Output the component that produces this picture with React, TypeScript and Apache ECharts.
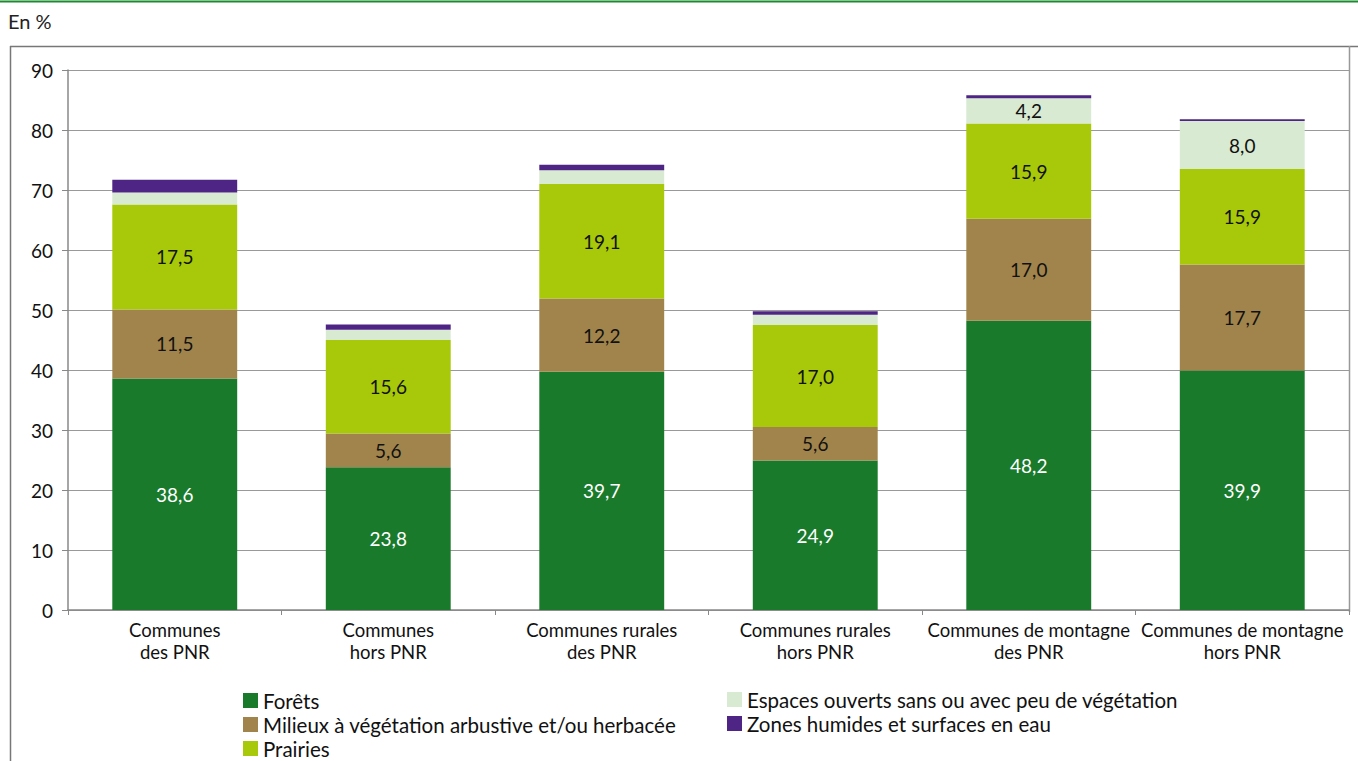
import React, { useEffect, useRef } from "react";
import * as echarts from "echarts";

const categories = [
  "Communes\ndes PNR",
  "Communes\nhors PNR",
  "Communes rurales\ndes PNR",
  "Communes rurales\nhors PNR",
  "Communes de montagne\ndes PNR",
  "Communes de montagne\nhors PNR",
];
const forets = [38.6, 23.8, 39.7, 24.9, 48.2, 39.9];
const milieux = [11.5, 5.6, 12.2, 5.6, 17.0, 17.7];
const prairies = [17.5, 15.6, 19.1, 17.0, 15.9, 15.9];
const espaces = [2.0, 1.7, 2.3, 1.7, 4.2, 8.0];
const zones = [2.1, 0.9, 0.9, 0.6, 0.5, 0.3];
const yTicks = [0, 10, 20, 30, 40, 50, 60, 70, 80, 90];

const FONT = "Lato";

const fmt = (v: number) => v.toFixed(1).replace(".", ",");

export default function App() {
  const ref = useRef<HTMLDivElement>(null);
  useEffect(() => {
    if (!ref.current) return;
    const chart = echarts.init(ref.current, undefined, { renderer: "svg" });
    const labelCommon = {
      show: true,
      fontFamily: FONT,
      fontSize: 19,
      formatter: (p: any) => fmt(p.value),
    };
    const mk = (name: string, data: number[], color: string, labelColor: string, minLabel: number) => ({
      name,
      type: "bar",
      stack: "total",
      barWidth: "58.5%",
      data: data.map((v) => ({
        value: v,
        label: { show: v >= minLabel },
      })),
      itemStyle: { color },
      label: { ...labelCommon, color: labelColor },
      emphasis: { disabled: true },
    });
    const legendCommon = {
      orient: "vertical",
      itemWidth: 15,
      itemHeight: 15,
      itemGap: 3,
      height: 100,
      icon: "rect",
      textStyle: { fontFamily: FONT, fontSize: 20.5, color: "#111" },
    };
    chart.setOption({
      animation: false,
      textStyle: { fontFamily: FONT },
      grid: { left: 68, right: 9, top: 70, bottom: 151, containLabel: false },
      graphic: [
        { type: "line", shape: { x1: 0, y1: 1.5, x2: 1358, y2: 1.5 }, style: { stroke: "#1d8a30", lineWidth: 2 } },
        { type: "text", x: 8, y: 11, style: { text: "En %", fontFamily: FONT, fontSize: 20, fill: "#222" } },
        { type: "line", shape: { x1: 10, y1: 46.5, x2: 1358, y2: 46.5 }, style: { stroke: "#777", lineWidth: 1.5 } },
        { type: "line", shape: { x1: 10.5, y1: 46, x2: 10.5, y2: 761 }, style: { stroke: "#777", lineWidth: 1.5 } },
        { type: "line", shape: { x1: 1349.5, y1: 46, x2: 1349.5, y2: 612 }, style: { stroke: "#999", lineWidth: 1.5 } },
      ],
      legend: [
        {
          ...legendCommon,
          data: ["Forêts", "Milieux à végétation arbustive et/ou herbacée", "Prairies"],
          left: 238,
          top: 685,
        },
        {
          ...legendCommon,
          data: ["Espaces ouverts sans ou avec peu de végétation", "Zones humides et surfaces en eau"],
          left: 722,
          top: 684,
        },
      ],
      xAxis: {
        type: "category",
        data: categories,
        axisLine: { lineStyle: { color: "#888", width: 1.5 } },
        axisTick: { show: true, alignWithLabel: false, length: 5, lineStyle: { color: "#888" } },
        axisLabel: { fontFamily: FONT, fontSize: 18.5, color: "#111", lineHeight: 22, margin: 9, interval: 0 },
      },
      yAxis: {
        type: "value",
        min: yTicks[0],
        max: yTicks[yTicks.length - 1],
        interval: 10,
        axisLine: { show: true, lineStyle: { color: "#888", width: 1.5 } },
        axisTick: { show: true, length: 6, lineStyle: { color: "#888" } },
        splitLine: { lineStyle: { color: "#999", width: 1 } },
        axisLabel: { fontFamily: FONT, fontSize: 19, color: "#111", margin: 15 },
      },
      series: [
        mk("Forêts", forets, "#1a7a2c", "#ffffff", 3),
        mk("Milieux à végétation arbustive et/ou herbacée", milieux, "#a1844c", "#111", 3),
        mk("Prairies", prairies, "#a8c80a", "#111", 3),
        mk("Espaces ouverts sans ou avec peu de végétation", espaces, "#d9ead2", "#111", 3),
        mk("Zones humides et surfaces en eau", zones, "#4e2484", "#111", 3),
      ],
    });
    return () => chart.dispose();
  }, []);
  return (
    <div
      ref={ref}
      style={{ position: "fixed", left: 0, top: 0, width: 1358, height: 761, background: "#fff" }}
    />
  );
}
